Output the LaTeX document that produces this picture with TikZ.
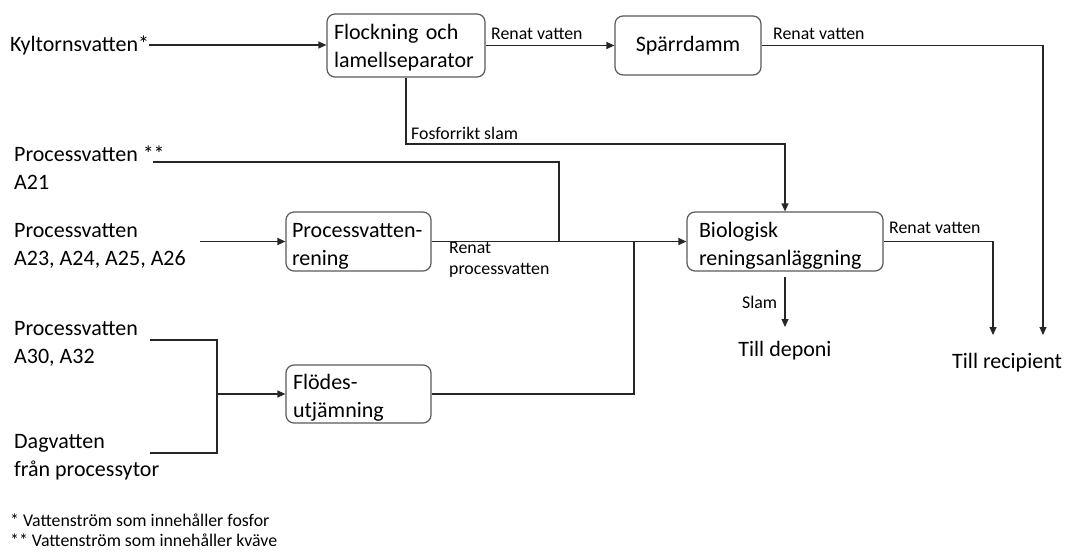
\documentclass[tikz,border=0pt]{standalone}
\usepackage{fontspec}
\setmainfont{Carlito}
\usetikzlibrary{arrows.meta}
\hyphenpenalty=10000
\exhyphenpenalty=10000
\definecolor{boxgray}{HTML}{595959}
\definecolor{linegray}{HTML}{262626}
\newcommand{\topstrut}{\rule{0pt}{23.5pt}}
\begin{document}
\begin{tikzpicture}[x=1pt,y=-1pt,
  big/.style={font=\fontsize{22}{28}\selectfont, inner sep=0pt},
  small/.style={font=\fontsize{17.8}{21}\selectfont, inner sep=0pt},
  box/.style={draw=boxgray, line width=1.2pt, rounded corners=8pt, font=\fontsize{22}{28}\selectfont, align=left, inner ysep=0pt},
  flow/.style={draw=linegray, line width=1.2pt},
  arr/.style={flow, -{Triangle[length=8pt,width=7pt]}}
]
\useasboundingbox (0,0) rectangle (1067,551);

% process boxes
\node[box, minimum width=158pt, minimum height=63pt, text width=144pt, inner xsep=7pt] (floc) at (406,45.5) {\rule{0pt}{19pt}Flockning och\\lamellseparator};
\node[box, minimum width=146pt, minimum height=59pt, align=center] (spar) at (688,45.5) {Spärrdamm};
\node[box, minimum width=145pt, minimum height=59pt, text width=133pt, inner xsep=6pt] (pvr) at (358.5,241.5) {\topstrut Processvatten-\\rening};
\node[box, minimum width=196pt, minimum height=59pt, text width=172pt, inner xsep=12pt] (bio) at (785,241.5) {\topstrut Biologisk\\reningsanläggning};
\node[box, minimum width=145pt, minimum height=58pt, text width=131pt, inner xsep=7pt] (flo) at (358.5,394) {\topstrut Flödes-\\utjämning};

% inflow texts
\node[big, anchor=west, align=left] (kyl) at (10,45) {Kyltornsvatten*};
\node[big, anchor=west, align=left] (p21) at (14,168) {Processvatten **\\A21};
\node[big, anchor=west, align=left] (p23) at (14,245.5) {Processvatten\\A23, A24, A25, A26};
\node[big, anchor=west, align=left] (p30) at (14,343.5) {Processvatten\\A30, A32};
\node[big, anchor=west, align=left] (dag) at (14,457) {Dagvatten\\från processytor};

% outputs
\node[big] (dep) at (785,351) {Till deponi};
\node[big, anchor=west] (rec) at (952,363) {Till recipient};

% connector labels
\node[small, anchor=west] (lrv1) at (491,34) {Renat vatten};
\node[small, anchor=west] (lrv2) at (773,34) {Renat vatten};
\node[small, anchor=west] (lfos) at (411,133) {Fosforrikt slam};
\node[small, anchor=west, align=left] (lrp) at (449,259.5) {Renat\\processvatten};
\node[small, anchor=west] (lrv3) at (889,228) {Renat vatten};
\node[small, anchor=west] (lslam) at (742,302) {Slam};

% footnotes
\node[small, anchor=west] (fn1) at (10,520) {* Vattenström som innehåller fosfor};
\node[small, anchor=west] (fn2) at (10,540) {** Vattenström som innehåller kväve};

% helper coordinates
\coordinate (fj) at (406,144);
\coordinate (a21s) at (153,162);
\coordinate (j1) at (559,241.5);
\coordinate (a23s) at (200,241.5);
\coordinate (j2) at (634,241.5);
\coordinate (r1) at (993,335);
\coordinate (r2) at (1043,335);
\coordinate (s1) at (785,277);
\coordinate (s2) at (785,327);
\coordinate (a30s) at (150,340);
\coordinate (jm) at (217,394);
\coordinate (dags) at (150,453);

% connectors
\draw[arr] (kyl.east) -- (kyl.east -| floc.west);
\draw[arr] (floc.east) -- (spar.west);
\draw[arr] (spar.east) -| (r2);
\draw[arr] (floc.south) -- (fj) -| (bio.north);
\draw[flow] (a21s) -| (j1);
\draw[arr] (a23s) -- (pvr.west);
\draw[arr] (pvr.east) -- (bio.west);
\draw[flow] (flo.east) -| (j2);
\draw[arr] (bio.east) -| (r1);
\draw[arr] (s1) -- (s2);
\draw[flow] (a30s) -| (jm) |- (dags);
\draw[arr] (jm) -- (flo.west);
\end{tikzpicture}
\end{document}
